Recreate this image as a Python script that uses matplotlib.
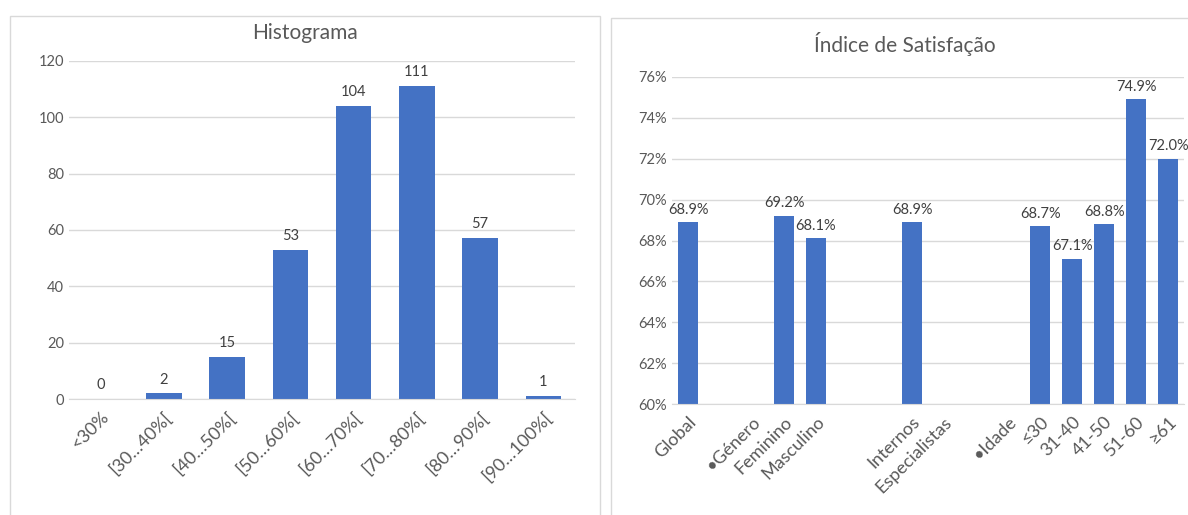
import matplotlib
matplotlib.use("Agg")
import matplotlib.pyplot as plt
from matplotlib.patches import Rectangle
from matplotlib.ticker import FuncFormatter

plt.rcParams['font.family'] = ['Lato', 'DejaVu Sans']

# data
hist_labels = ['<30%', '[30…40%[', '[40…50%[', '[50…60%[', '[60…70%[',
               '[70…80%[', '[80…90%[', '[90…100%[']
hist_counts = [0, 2, 15, 53, 104, 111, 57, 1]

sat_labels = ['Global', '', '•Género', 'Feminino', 'Masculino', '', '',
              'Internos', 'Especialistas', '', '•Idade', '≤30', '31-40',
              '41-50', '51-60', '≥61']
sat_values = [68.9, None, None, 69.2, 68.1, None, None, 68.9, None, None,
              None, 68.7, 67.1, 68.8, 74.9, 72.0]

blue = '#4472c4'
grid = '#d9d9d9'
txt = '#595959'

fig = plt.figure(figsize=(11.88, 5.15), dpi=100)

# chart borders
fig.patches.append(Rectangle((0.0084, -0.1), 0.4966, 1.069, transform=fig.transFigure,
                             fill=False, edgecolor=grid, linewidth=1))
fig.patches.append(Rectangle((0.514, -0.1), 0.52, 1.065, transform=fig.transFigure,
                             fill=False, edgecolor=grid, linewidth=1))


def style(ax):
    for s in ['top', 'right', 'left']:
        ax.spines[s].set_visible(False)
    ax.spines['bottom'].set_color(grid)
    ax.grid(axis='y', color=grid, linewidth=1)
    ax.set_axisbelow(True)
    ax.tick_params(length=0, colors=txt)
    ax.tick_params(axis='y', labelsize=10.5)
    ax.tick_params(axis='x', pad=7, labelsize=13)


# left: histogram
ax1 = fig.add_axes([0.058, 0.225, 0.426, 0.657])
style(ax1)
x1 = range(len(hist_labels))
ax1.bar(x1, hist_counts, width=0.56, color=blue)
ax1.set_xlim(-0.5, len(hist_labels) - 0.5)
ax1.set_ylim(0, 120)
ax1.set_yticks(range(0, 121, 20))
ax1.set_xticks(list(x1))
ax1.set_xticklabels(hist_labels, rotation=45, ha='right', rotation_mode='anchor')
for xi, v in zip(x1, hist_counts):
    ax1.annotate(str(v), (xi, v), xytext=(0, 5), textcoords='offset points',
                 ha='center', va='bottom', fontsize=10.5, color='#404040')
fig.text(0.257, 0.936, 'Histograma', ha='center', va='center', fontsize=15, color=txt)

# right: satisfaction index
ax2 = fig.add_axes([0.5657, 0.2155, 0.431, 0.635])
style(ax2)
x2 = list(range(len(sat_labels)))
vals = [v if v is not None else 0 for v in sat_values]
ax2.bar(x2, vals, width=0.65, color=blue)
ax2.set_xlim(-0.5, len(sat_labels) - 0.5)
ax2.set_ylim(60, 76)
ax2.set_yticks(range(60, 77, 2))
ax2.yaxis.set_major_formatter(FuncFormatter(lambda v, p: f'{v:.0f}%'))
ax2.set_xticks(x2)
ax2.set_xticklabels(sat_labels, rotation=45, ha='right', rotation_mode='anchor')
for xi, v in zip(x2, sat_values):
    if v is None:
        continue
    ax2.annotate(f'{v:.1f}%', (xi, v), xytext=(0, 4), textcoords='offset points',
                 ha='center', va='bottom', fontsize=10.5, color='#404040')
fig.text(0.762, 0.915, 'Índice de Satisfação', ha='center', va='center', fontsize=15,
         color=txt)

fig.savefig('out.png', dpi=100)
